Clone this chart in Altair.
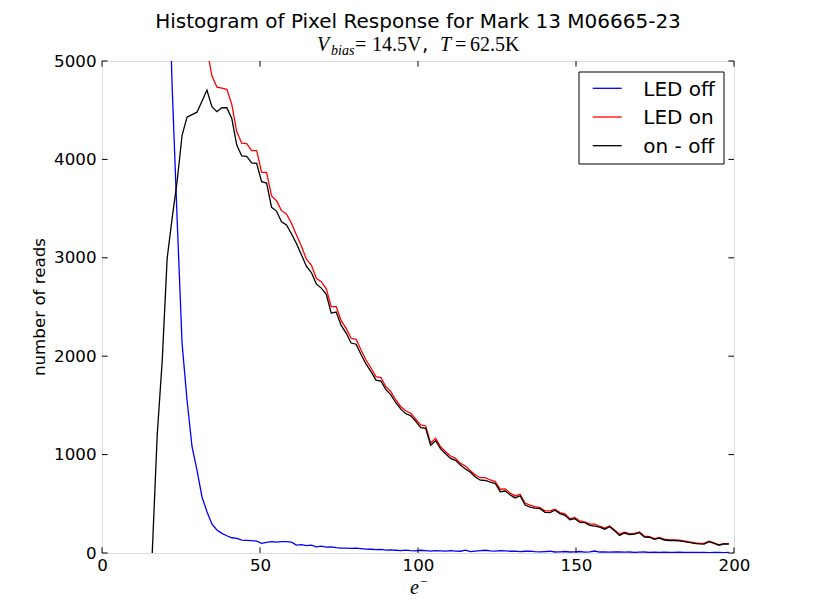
import altair as alt
import pandas as pd

# ---------------- data ----------------
X_BINS = [
    15.90, 17.47, 19.05, 20.62, 22.19, 23.77, 25.34, 26.91, 28.49, 30.06,
    31.63, 33.21, 34.78, 36.35, 37.93, 39.50, 41.07, 42.65, 44.22, 45.79,
    47.37, 48.94, 50.51, 52.09, 53.66, 55.23, 56.81, 58.38, 59.95, 61.53,
    63.10, 64.67, 66.25, 67.82, 69.39, 70.97, 72.54, 74.11, 75.69, 77.26,
    78.83, 80.41, 81.98, 83.55, 85.13, 86.70, 88.27, 89.85, 91.42, 92.99,
    94.57, 96.14, 97.71, 99.29, 100.86, 102.43, 104.00, 105.58, 107.15, 108.72,
    110.30, 111.87, 113.44, 115.02, 116.59, 118.16, 119.74, 121.31, 122.88, 124.46,
    126.03, 127.60, 129.18, 130.75, 132.32, 133.90, 135.47, 137.04, 138.62, 140.19,
    141.76, 143.34, 144.91, 146.48, 148.06, 149.63, 151.20, 152.78, 154.35, 155.92,
    157.50, 159.07, 160.64, 162.22, 163.79, 165.36, 166.94, 168.51, 170.08, 171.66,
    173.23, 174.80, 176.38, 177.95, 179.52, 181.10, 182.67, 184.24, 185.82, 187.39,
    188.96, 190.54, 192.11, 193.68, 195.25, 196.83, 198.40,
]

LED_OFF = [
    15000, 12000, 9500, 6500, 4750, 3400, 2130, 1555, 1080, 843,
    572, 420, 295, 234, 200, 175, 155, 149, 130, 128,
    125, 120, 98, 108, 115, 110, 115, 115, 110, 81,
    85, 75, 80, 62, 70, 60, 62, 55, 50, 50,
    48, 50, 45, 40, 38, 35, 36, 30, 32, 28,
    25, 30, 25, 22, 28, 25, 20, 25, 22, 20,
    25, 20, 18, 30, 15, 20, 25, 28, 22, 20,
    25, 22, 18, 20, 15, 18, 20, 15, 12, 15,
    18, 10, 12, 15, 10, 12, 15, 8, 12, 20,
    10, 12, 8, 10, 12, 8, 10, 6, 8, 10,
    6, 8, 5, 8, 6, 5, 8, 6, 5, 7,
    5, 6, 4, 6, 5, 4, 5,
]

LED_ON = [
    15000, 13180, 11450, 9490, 8130, 7200, 6370, 5985, 5535, 5323,
    5162, 5125, 4850, 4735, 4725, 4712, 4560, 4280, 4165, 4160,
    4090, 4090, 3870, 3865, 3628, 3580, 3479, 3445, 3351, 3232,
    3120, 2985, 2927, 2792, 2757, 2685, 2503, 2503, 2361, 2283,
    2182, 2172, 2063, 1961, 1880, 1792, 1782, 1690, 1639, 1555,
    1487, 1446, 1420, 1359, 1301, 1291, 1115, 1166, 1080, 1029,
    986, 962, 911, 884, 836, 793, 765, 765, 742, 726,
    648, 652, 608, 580, 597, 506, 486, 472, 462, 428,
    428, 445, 411, 398, 348, 361, 326, 316, 293, 293,
    272, 254, 275, 235, 191, 211, 196, 199, 214, 171,
    166, 147, 157, 140, 133, 132, 131, 122, 112, 105,
    98, 97, 120, 104, 84, 96, 96,
]

ON_MINUS_OFF = [
    0, 1200, 1950, 2995, 3400, 3775, 4245, 4430, 4455, 4480,
    4590, 4705, 4535, 4485, 4525, 4525, 4415, 4145, 4035, 4030,
    3965, 3960, 3773, 3760, 3513, 3475, 3367, 3335, 3245, 3145,
    3030, 2915, 2850, 2735, 2692, 2628, 2438, 2448, 2313, 2235,
    2134, 2122, 2018, 1921, 1843, 1757, 1746, 1660, 1607, 1527,
    1462, 1416, 1395, 1337, 1273, 1266, 1095, 1141, 1058, 1009,
    961, 942, 893, 854, 821, 773, 740, 737, 720, 706,
    623, 630, 590, 560, 582, 488, 466, 457, 450, 413,
    410, 435, 399, 383, 338, 349, 311, 308, 281, 273,
    262, 242, 267, 225, 179, 203, 186, 193, 206, 161,
    160, 139, 152, 132, 127, 127, 123, 116, 107, 98,
    93, 91, 116, 98, 79, 92, 91,
]

X_TICKS = [0, 50, 100, 150, 200]
Y_TICKS = [0, 1000, 2000, 3000, 4000, 5000]
SERIES = ["LED off", "LED on", "on - off"]
COLORS = ["#0000ff", "#ff0000", "#000000"]

TITLE = "Histogram of Pixel Response for Mark 13 M06665-23"

# ---------------- chart ----------------
W, H = 632, 492
TICK = 5.6

xs = alt.Scale(domain=[0, 200], nice=False, zero=False)
ys = alt.Scale(domain=[0, 5000], nice=False)

xaxis = alt.Axis(values=X_TICKS, title=None, domain=False, ticks=False, grid=False,
                 labelFont="DejaVu Sans", labelFontSize=16.7, labelColor="black",
                 labelPadding=4, labelFlush=False, labelOverlap=False, format="d")
yaxis = alt.Axis(values=Y_TICKS, title=None, domain=False, ticks=False, grid=False,
                 labelFont="DejaVu Sans", labelFontSize=16.7, labelColor="black",
                 labelPadding=6, labelFlush=False, labelOverlap=False, format="d")


def series_layer(vals, color):
    df = pd.DataFrame({"x": X_BINS, "count": vals})
    return alt.Chart(df).mark_line(clip=True, stroke=color, strokeWidth=1.3).encode(
        x=alt.X("x:Q", scale=xs, axis=xaxis),
        y=alt.Y("count:Q", scale=ys, axis=yaxis),
    )


lines = [series_layer(v, c) for v, c in zip([LED_OFF, LED_ON, ON_MINUS_OFF], COLORS)]

tx = pd.DataFrame({"v": X_TICKS})
ty = pd.DataFrame({"v": Y_TICKS})
tick_layers = [
    alt.Chart(tx).mark_rule(color="black", strokeWidth=1).encode(
        x=alt.X("v:Q", scale=xs, axis=xaxis), y=alt.value(H), y2=alt.value(H - TICK)),
    alt.Chart(tx).mark_rule(color="black", strokeWidth=1).encode(
        x=alt.X("v:Q", scale=xs, axis=xaxis), y=alt.value(0), y2=alt.value(TICK)),
    alt.Chart(ty).mark_rule(color="black", strokeWidth=1).encode(
        y=alt.Y("v:Q", scale=ys, axis=yaxis), x=alt.value(0), x2=alt.value(TICK)),
    alt.Chart(ty).mark_rule(color="black", strokeWidth=1).encode(
        y=alt.Y("v:Q", scale=ys, axis=yaxis), x=alt.value(W), x2=alt.value(W - TICK)),
]

one = pd.DataFrame({"k": [0]})


def txt(s, x, y, size=20, font="DejaVu Sans", style="normal", align="left", angle=0,
        baseline="alphabetic"):
    kw = dict(fontSize=size, font=font, fontStyle=style, align=align, baseline=baseline,
              color="black")
    if angle:
        kw["angle"] = angle
    return alt.Chart(one).mark_text(**kw).encode(
        x=alt.value(x), y=alt.value(y), text=alt.value(s))


# legend
leg = [alt.Chart(one).mark_rect(fill="white", stroke="black", strokeWidth=1).encode(
    x=alt.value(477), x2=alt.value(622), y=alt.value(11), y2=alt.value(103))]
for i, (name, col) in enumerate(zip(SERIES, COLORS)):
    yc = 27.3 + i * 28.7
    leg.append(alt.Chart(one).mark_rule(color=col, strokeWidth=1.3).encode(
        x=alt.value(490.7), x2=alt.value(519.7), y=alt.value(yc)))
    leg.append(txt(name, 541.3, yc + 7.3))

serif = "Liberation Serif"
texts = [
    txt(TITLE, W / 2, -33, align="center"),
    txt("V", 215, -10, font=serif, style="italic"),
    txt("bias", 229, -6, size=14, font=serif, style="italic"),
    txt("=", 253, -10, font=serif),
    txt("14.5V", 270, -10, font=serif),
    txt(",", 320, -10),
    txt("T", 338, -10, font=serif, style="italic"),
    txt("=", 353, -10, font=serif),
    txt("62.5K", 368, -10, font=serif),
    txt("e", 308, 533, font=serif, style="italic"),
    txt("\u2212", 318, 525, size=13, font=serif),
    txt("number of reads", -57, H / 2, size=16.7, align="center", angle=270),
]

chart = alt.layer(*lines, *tick_layers, *leg, *texts).properties(
    width=W, height=H,
    autosize=alt.AutoSizeParams(type="none"),
    padding={"left": 94, "top": 53, "right": 60, "bottom": 50},
).configure_view(stroke="black", strokeWidth=1.2).configure(background="white")

chart.save("out.html", embed_options={"renderer": "svg", "actions": False})
